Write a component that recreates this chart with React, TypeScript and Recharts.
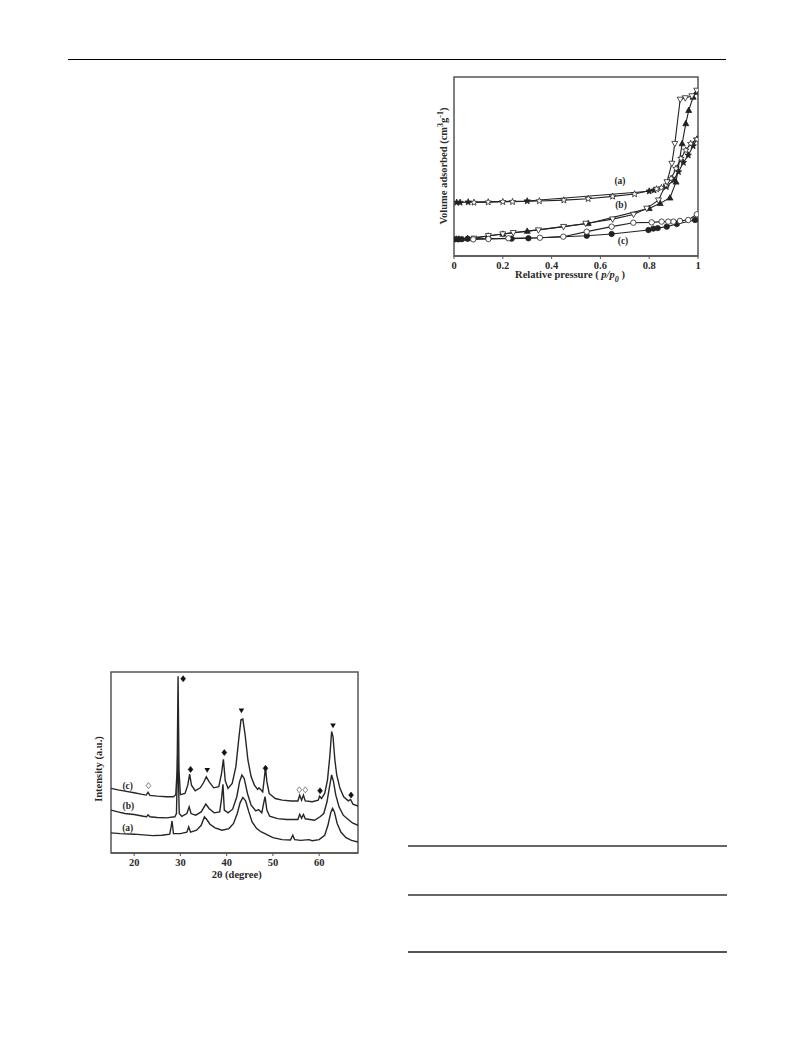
import React from "react";
import {
  LineChart,
  ComposedChart,
  Line,
  Scatter,
  XAxis,
  YAxis,
  ReferenceArea,
} from "recharts";

// ---------- Isotherm data (x = p/p0, y = volume, arbitrary units 0-100) ----------
const isoTicks = [0, 0.2, 0.4, 0.6, 0.8, 1];

const isoA_ads = [
  { x: 0.011, y: 29.9 }, { x: 0.025, y: 29.9 }, { x: 0.058, y: 30.1 }, { x: 0.3, y: 30.7 },
  { x: 0.8, y: 36.2 }, { x: 0.82, y: 36.8 }, { x: 0.87, y: 38.7 }, { x: 0.9, y: 42.4 },
  { x: 0.92, y: 47.0 }, { x: 0.94, y: 52.2 }, { x: 0.96, y: 56.3 }, { x: 0.98, y: 61.5 },
  { x: 0.995, y: 65.2 },
];
const isoA_des = [
  { x: 0.995, y: 65.2 }, { x: 0.97, y: 62.8 }, { x: 0.95, y: 59.1 }, { x: 0.93, y: 54.5 },
  { x: 0.91, y: 48.9 }, { x: 0.89, y: 43.3 }, { x: 0.87, y: 39.6 }, { x: 0.85, y: 38.1 },
  { x: 0.83, y: 37.4 }, { x: 0.74, y: 34.6 }, { x: 0.65, y: 33.3 }, { x: 0.55, y: 32.0 },
  { x: 0.45, y: 31.2 }, { x: 0.35, y: 30.7 }, { x: 0.24, y: 30.3 }, { x: 0.2, y: 30.3 },
  { x: 0.14, y: 30.1 }, { x: 0.082, y: 29.9 },
];
const isoB_ads = [
  { x: 0.01, y: 9.5 }, { x: 0.02, y: 9.5 }, { x: 0.055, y: 9.85 }, { x: 0.14, y: 11.2 },
  { x: 0.2, y: 12.3 }, { x: 0.3, y: 13.9 }, { x: 0.55, y: 18.2 }, { x: 0.8, y: 26.6 },
  { x: 0.845, y: 29.4 }, { x: 0.885, y: 32.5 }, { x: 0.91, y: 41.4 }, { x: 0.935, y: 62.8 },
  { x: 0.95, y: 74.0 }, { x: 0.962, y: 81.4 }, { x: 0.98, y: 88.8 }, { x: 0.995, y: 91.6 },
];
const isoB_des = [
  { x: 0.995, y: 92.5 }, { x: 0.975, y: 89.4 }, { x: 0.948, y: 88.3 }, { x: 0.927, y: 87.5 },
  { x: 0.905, y: 62.8 }, { x: 0.893, y: 51.7 }, { x: 0.873, y: 41.4 }, { x: 0.838, y: 31.2 },
  { x: 0.79, y: 26.6 }, { x: 0.736, y: 23.2 }, { x: 0.65, y: 20.6 }, { x: 0.54, y: 18.2 },
  { x: 0.449, y: 16.4 }, { x: 0.346, y: 14.5 }, { x: 0.243, y: 13.0 }, { x: 0.2, y: 12.3 },
  { x: 0.141, y: 11.3 }, { x: 0.082, y: 9.85 },
];
const isoC_ads = [
  { x: 0.004, y: 9.3 }, { x: 0.018, y: 9.3 }, { x: 0.032, y: 9.4 }, { x: 0.056, y: 9.6 },
  { x: 0.236, y: 9.7 }, { x: 0.305, y: 9.9 }, { x: 0.544, y: 11.3 }, { x: 0.646, y: 12.3 },
  { x: 0.797, y: 14.5 }, { x: 0.817, y: 15.3 }, { x: 0.835, y: 15.6 }, { x: 0.872, y: 16.4 },
  { x: 0.913, y: 17.9 }, { x: 0.988, y: 20.1 },
];
const isoC_des = [
  { x: 0.995, y: 23.3 }, { x: 0.96, y: 20.1 }, { x: 0.926, y: 19.6 }, { x: 0.899, y: 19.2 },
  { x: 0.878, y: 19.2 }, { x: 0.851, y: 19.2 }, { x: 0.81, y: 18.8 }, { x: 0.735, y: 18.6 },
  { x: 0.646, y: 16.4 }, { x: 0.544, y: 13.6 }, { x: 0.448, y: 10.8 }, { x: 0.352, y: 10.2 },
  { x: 0.223, y: 9.9 }, { x: 0.141, y: 9.5 }, { x: 0.079, y: 9.3 },
];

// ---------- XRD data (x = 2θ, y = intensity a.u. 0-100) ----------
const xrdTicks = [20, 30, 40, 50, 60];

const xrdC = [
  { x: 15, y: 35.7 }, { x: 16.5, y: 34.9 }, { x: 18, y: 34.2 }, { x: 20, y: 33.3 },
  { x: 21.5, y: 32.5 }, { x: 22.6, y: 32.0 }, { x: 23.0, y: 33.5 }, { x: 23.4, y: 31.8 },
  { x: 25, y: 31.4 }, { x: 27, y: 31.1 }, { x: 28.5, y: 31.1 }, { x: 29.0, y: 32.2 },
  { x: 29.3, y: 45.8 }, { x: 29.5, y: 97.6 }, { x: 29.7, y: 45.8 }, { x: 30.0, y: 32.2 },
  { x: 31, y: 32.9 }, { x: 31.6, y: 37.5 }, { x: 32.0, y: 43.6 }, { x: 32.4, y: 37.5 },
  { x: 33.2, y: 34.4 }, { x: 34.3, y: 36.0 }, { x: 35.0, y: 38.8 }, { x: 35.6, y: 42.1 },
  { x: 36.2, y: 39.4 }, { x: 37.2, y: 36.0 }, { x: 38.3, y: 36.6 }, { x: 38.9, y: 44.0 },
  { x: 39.3, y: 51.8 }, { x: 39.7, y: 39.9 }, { x: 40.3, y: 35.7 }, { x: 41.2, y: 38.4 },
  { x: 42.0, y: 47.7 }, { x: 42.6, y: 62.5 }, { x: 43.1, y: 73.6 }, { x: 43.5, y: 74.0 },
  { x: 44.0, y: 65.2 }, { x: 44.6, y: 51.4 }, { x: 45.3, y: 42.1 }, { x: 46.0, y: 37.5 },
  { x: 46.7, y: 35.1 }, { x: 47.0, y: 36.0 }, { x: 47.8, y: 33.8 }, { x: 48.1, y: 40.3 },
  { x: 48.4, y: 47.3 }, { x: 48.7, y: 39.4 }, { x: 49.2, y: 32.9 }, { x: 50.5, y: 30.1 },
  { x: 52, y: 29.2 }, { x: 54, y: 28.7 }, { x: 55.4, y: 28.7 }, { x: 55.8, y: 32.0 },
  { x: 56.2, y: 29.2 }, { x: 56.6, y: 32.0 }, { x: 57.0, y: 28.8 }, { x: 58.5, y: 28.3 },
  { x: 59.8, y: 29.2 }, { x: 60.1, y: 31.4 }, { x: 60.5, y: 30.1 }, { x: 61.2, y: 32.9 },
  { x: 61.8, y: 40.3 }, { x: 62.3, y: 53.2 }, { x: 62.7, y: 67.1 }, { x: 63.0, y: 64.3 },
  { x: 63.4, y: 51.4 }, { x: 63.8, y: 43.1 }, { x: 64.5, y: 35.7 }, { x: 65.3, y: 31.1 },
  { x: 66.3, y: 28.8 }, { x: 66.8, y: 29.6 }, { x: 67.3, y: 27.0 }, { x: 68.4, y: 25.9 },
];
const xrdB = [
  { x: 15, y: 23.7 }, { x: 16.5, y: 22.7 }, { x: 18, y: 21.8 }, { x: 20, y: 21.3 },
  { x: 22, y: 20.3 }, { x: 22.7, y: 20.0 }, { x: 23.0, y: 21.1 }, { x: 23.4, y: 20.0 },
  { x: 25, y: 19.6 }, { x: 27, y: 19.4 }, { x: 28.8, y: 20.0 }, { x: 29.15, y: 21.8 },
  { x: 29.45, y: 57.9 }, { x: 29.75, y: 21.8 }, { x: 30.3, y: 20.3 }, { x: 31.4, y: 21.8 },
  { x: 31.9, y: 25.5 }, { x: 32.3, y: 21.8 }, { x: 33.3, y: 20.9 }, { x: 34.5, y: 22.7 },
  { x: 35.5, y: 27.0 }, { x: 36.2, y: 24.6 }, { x: 37.3, y: 22.2 }, { x: 38.5, y: 22.7 },
  { x: 38.9, y: 30.0 }, { x: 39.2, y: 38.0 }, { x: 39.5, y: 23.7 }, { x: 40.3, y: 22.2 },
  { x: 41.3, y: 24.2 }, { x: 42.2, y: 31.1 }, { x: 42.8, y: 39.4 }, { x: 43.3, y: 43.1 },
  { x: 43.8, y: 41.2 }, { x: 44.5, y: 32.9 }, { x: 45.3, y: 26.4 }, { x: 46.3, y: 23.3 },
  { x: 46.9, y: 24.0 }, { x: 47.6, y: 22.2 }, { x: 48.0, y: 27.4 }, { x: 48.3, y: 31.1 },
  { x: 48.7, y: 23.7 }, { x: 49.3, y: 20.3 }, { x: 51, y: 19.0 }, { x: 53, y: 18.5 },
  { x: 55.4, y: 18.5 }, { x: 55.8, y: 21.4 }, { x: 56.2, y: 19.2 }, { x: 56.6, y: 21.3 },
  { x: 57.0, y: 18.9 }, { x: 59, y: 18.1 }, { x: 60.2, y: 20.0 }, { x: 61.0, y: 21.8 },
  { x: 61.7, y: 28.3 }, { x: 62.3, y: 37.5 }, { x: 62.7, y: 43.1 }, { x: 63.1, y: 39.4 },
  { x: 63.6, y: 32.0 }, { x: 64.3, y: 25.5 }, { x: 65.2, y: 20.9 }, { x: 66.3, y: 18.5 },
  { x: 67.2, y: 16.6 }, { x: 68.4, y: 15.3 },
];
const xrdA = [
  { x: 15, y: 11.1 }, { x: 17, y: 10.7 }, { x: 20, y: 10.4 }, { x: 22, y: 10.0 },
  { x: 24, y: 9.6 }, { x: 26, y: 9.8 }, { x: 27.7, y: 10.4 }, { x: 28.0, y: 14.4 },
  { x: 28.2, y: 17.7 }, { x: 28.5, y: 10.7 }, { x: 30, y: 10.7 }, { x: 31.4, y: 11.5 },
  { x: 31.8, y: 14.4 }, { x: 32.2, y: 11.5 }, { x: 33.5, y: 12.6 }, { x: 34.5, y: 15.3 },
  { x: 35.2, y: 20.0 }, { x: 35.7, y: 18.5 }, { x: 36.4, y: 15.9 }, { x: 37.5, y: 13.9 },
  { x: 39, y: 12.6 }, { x: 40.5, y: 13.5 }, { x: 41.5, y: 16.3 }, { x: 42.3, y: 21.8 },
  { x: 42.9, y: 27.7 }, { x: 43.5, y: 30.7 }, { x: 44.1, y: 28.8 }, { x: 44.8, y: 22.7 },
  { x: 45.5, y: 17.2 }, { x: 46.5, y: 13.5 }, { x: 47.5, y: 11.6 }, { x: 48.5, y: 10.4 },
  { x: 50, y: 8.5 }, { x: 52, y: 7.4 }, { x: 53.8, y: 7.2 }, { x: 54.3, y: 9.8 },
  { x: 54.7, y: 7.4 }, { x: 56, y: 7.0 }, { x: 57.8, y: 7.4 }, { x: 58.5, y: 6.8 },
  { x: 60, y: 7.4 }, { x: 61.2, y: 9.8 }, { x: 61.9, y: 15.3 }, { x: 62.5, y: 22.2 },
  { x: 62.9, y: 24.6 }, { x: 63.3, y: 22.7 }, { x: 63.9, y: 16.3 }, { x: 64.7, y: 11.6 },
  { x: 65.8, y: 8.5 }, { x: 67, y: 7.0 }, { x: 68.4, y: 6.1 },
];
const xrdDiamonds = [
  { x: 30.6, y: 96.3 }, { x: 32.2, y: 46.2 }, { x: 39.5, y: 55.5 },
  { x: 48.4, y: 46.8 }, { x: 60.2, y: 34.4 }, { x: 66.9, y: 32.0 },
];
const xrdTriangles = [
  { x: 35.8, y: 45.8 }, { x: 43.2, y: 78.7 }, { x: 63.0, y: 70.4 },
];
const xrdOpenDiamonds = [
  { x: 23.1, y: 37.2 }, { x: 55.7, y: 34.9 }, { x: 57.0, y: 34.9 },
];

// ---------- drawing helpers ----------
const INK = "#222";
const FONT = "'Liberation Serif', 'DejaVu Serif', serif";

function starPoints(cx: number, cy: number, ro: number, ri: number) {
  const pts: string[] = [];
  for (let i = 0; i < 10; i++) {
    const a = ((-90 + i * 36) * Math.PI) / 180;
    const r = i % 2 === 0 ? ro : ri;
    pts.push(`${cx + r * Math.cos(a)},${cy + r * Math.sin(a)}`);
  }
  return pts.join(" ");
}

function makeDot(kind: string, filled: boolean) {
  return (p: any) => {
    const { cx, cy, index } = p;
    const key = `${kind}-${filled}-${index}`;
    if (cx == null || cy == null) return <g key={key} />;
    const fill = filled ? INK : "#fff";
    const sw = 0.8;
    if (kind === "star") {
      return <polygon key={key} points={starPoints(cx, cy, 3.4, 1.5)} fill={fill} stroke={INK} strokeWidth={sw} />;
    }
    if (kind === "up") {
      return (
        <polygon key={key} points={`${cx},${cy - 3.2} ${cx + 3},${cy + 2.2} ${cx - 3},${cy + 2.2}`} fill={fill} stroke={INK} strokeWidth={sw} />
      );
    }
    if (kind === "down") {
      return (
        <polygon key={key} points={`${cx},${cy + 3.2} ${cx + 3},${cy - 2.2} ${cx - 3},${cy - 2.2}`} fill={fill} stroke={INK} strokeWidth={sw} />
      );
    }
    return <circle key={key} cx={cx} cy={cy} r={2.7} fill={fill} stroke={INK} strokeWidth={sw} />;
  };
}

const diamondShape = (filled: boolean) => (p: any) => {
  const { cx, cy } = p;
  if (cx == null) return <g />;
  return (
    <polygon
      points={`${cx},${cy - 3} ${cx + 2.4},${cy} ${cx},${cy + 3} ${cx - 2.4},${cy}`}
      fill={filled ? "#111" : "#fff"}
      stroke={filled ? "#111" : "#777"}
      strokeWidth={filled ? 0.6 : 0.9}
    />
  );
};
const triDownShape = (p: any) => {
  const { cx, cy } = p;
  if (cx == null) return <g />;
  return <polygon points={`${cx - 2.8},${cy - 2} ${cx + 2.8},${cy - 2} ${cx},${cy + 2.6}`} fill="#111" />;
};

const tickStyle = { fontFamily: FONT, fontWeight: 700, fontSize: 10.5, fill: "#2a2a2a" };

const abs = (left: number, top: number, extra: React.CSSProperties = {}): React.CSSProperties => ({
  position: "absolute",
  left,
  top,
  fontFamily: FONT,
  fontWeight: 700,
  color: "#2a2a2a",
  whiteSpace: "nowrap",
  transform: "translate(-50%, -50%)",
  lineHeight: 1,
  ...extra,
});

function Isotherm() {
  const series: [any[], string, boolean][] = [
    [isoA_ads, "star", true],
    [isoA_des, "star", false],
    [isoB_ads, "up", true],
    [isoB_des, "down", false],
    [isoC_ads, "circle", true],
    [isoC_des, "circle", false],
  ];
  return (
    <div style={{ position: "absolute", left: 400, top: 60 }}>
      <LineChart width={330} height={240} margin={{ top: 17, right: 32, bottom: 24, left: 54 }}>
        <XAxis
          type="number"
          dataKey="x"
          domain={[0, 1]}
          ticks={isoTicks}
          height={20}
          tickSize={3}
          tickMargin={3}
          tick={tickStyle}
          axisLine={{ stroke: "#555", strokeWidth: 1.5 }}
          tickLine={{ stroke: "#555" }}
          allowDataOverflow
        />
        <YAxis type="number" dataKey="y" domain={[0, 100]} hide allowDataOverflow />
        <ReferenceArea x1={0} x2={1} y1={0} y2={100} fill="none" stroke="#555" strokeWidth={1.5} ifOverflow="visible" />
        {series.map(([d, kind, filled], i) => (
          <Line
            key={i}
            data={d}
            dataKey="y"
            type="linear"
            stroke={INK}
            strokeWidth={1.1}
            dot={makeDot(kind, filled)}
            activeDot={false}
            isAnimationActive={false}
          />
        ))}
      </LineChart>
    </div>
  );
}

function XRD() {
  return (
    <div style={{ position: "absolute", left: 60, top: 655 }}>
      <ComposedChart width={310} height={240} margin={{ top: 17, right: 12, bottom: 22, left: 51 }}>
        <XAxis
          type="number"
          dataKey="x"
          domain={[15, 68.4]}
          ticks={xrdTicks}
          height={20}
          tickSize={3}
          tickMargin={3}
          tick={tickStyle}
          axisLine={{ stroke: "#555", strokeWidth: 1.5 }}
          tickLine={{ stroke: "#555" }}
          allowDataOverflow
        />
        <YAxis type="number" dataKey="y" domain={[0, 100]} hide allowDataOverflow />
        <ReferenceArea x1={15} x2={68.4} y1={0} y2={100} fill="none" stroke="#555" strokeWidth={1.5} ifOverflow="visible" />
        <Line data={xrdA} dataKey="y" type="linear" stroke="#262626" strokeWidth={1.4} dot={false} activeDot={false} isAnimationActive={false} />
        <Line data={xrdB} dataKey="y" type="linear" stroke="#262626" strokeWidth={1.4} dot={false} activeDot={false} isAnimationActive={false} />
        <Line data={xrdC} dataKey="y" type="linear" stroke="#262626" strokeWidth={1.4} dot={false} activeDot={false} isAnimationActive={false} />
        <Scatter data={xrdDiamonds} dataKey="y" shape={diamondShape(true)} isAnimationActive={false} />
        <Scatter data={xrdTriangles} dataKey="y" shape={triDownShape} isAnimationActive={false} />
        <Scatter data={xrdOpenDiamonds} dataKey="y" shape={diamondShape(false)} isAnimationActive={false} />
      </ComposedChart>
    </div>
  );
}

export default function App() {
  return (
    <div style={{ position: "absolute", left: 0, top: 0, width: 793, height: 1053, background: "#fff", overflow: "hidden" }}>
      {/* page header rule */}
      <div style={{ position: "absolute", left: 68, top: 59, width: 658, height: 1, background: "#000" }} />

      <Isotherm />
      <div style={abs(442.7, 166, { fontSize: 10.5, transform: "translate(-50%, -50%) rotate(-90deg)" })}>
        Volume adsorbed (cm<sup style={{ fontSize: 8 }}>3</sup>g<sup style={{ fontSize: 8 }}>-1</sup>)
      </div>
      <div style={abs(570, 277, { fontSize: 10.5 })}>
        Relative pressure ( <span style={{ fontStyle: "italic" }}>p/p<sub style={{ fontSize: 8 }}>0</sub></span> )
      </div>
      <div style={abs(620, 182, { fontSize: 9.5 })}>(a)</div>
      <div style={abs(621, 206, { fontSize: 9.5 })}>(b)</div>
      <div style={abs(623, 242, { fontSize: 9.5 })}>(c)</div>

      <XRD />
      <div style={abs(99, 768.5, { fontSize: 10.5, transform: "translate(-50%, -50%) rotate(-90deg)" })}>
        Intensity (a.u.)
      </div>
      <div style={abs(236.7, 875, { fontSize: 10.5 })}>2θ (degree)</div>
      <div style={abs(127.7, 786.7, { fontSize: 9.5 })}>(c)</div>
      <div style={abs(128.3, 807.3, { fontSize: 9.5 })}>(b)</div>
      <div style={abs(127.7, 829.3, { fontSize: 9.5 })}>(a)</div>

      {/* table rules */}
      <div style={{ position: "absolute", left: 408, top: 845, width: 319, height: 2, background: "#666" }} />
      <div style={{ position: "absolute", left: 408, top: 894, width: 319, height: 2, background: "#666" }} />
      <div style={{ position: "absolute", left: 408, top: 951, width: 319, height: 2, background: "#555" }} />
    </div>
  );
}
